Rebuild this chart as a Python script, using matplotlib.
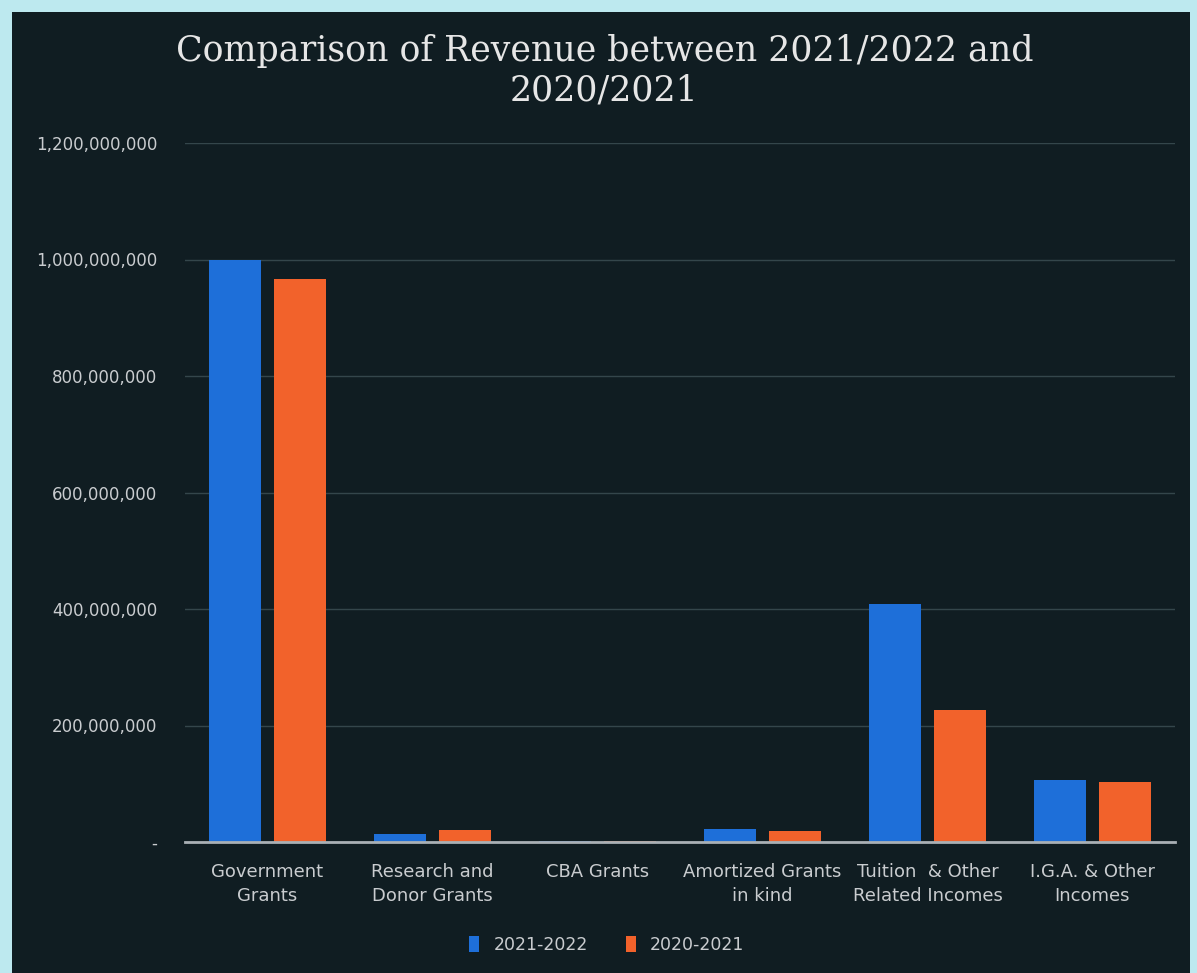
import matplotlib.pyplot as plt
import numpy as np
from matplotlib.patches import Rectangle
from matplotlib.ticker import FuncFormatter

categories = ["Government\nGrants", "Research and\nDonor Grants", "CBA Grants",
              "Amortized Grants\nin kind", "Tuition  & Other\nRelated Incomes",
              "I.G.A. & Other\nIncomes"]
rev_2122 = [999000000, 14000000, 1500000, 22000000, 409000000, 106000000]
rev_2021 = [966000000, 21000000, 1000000, 19000000, 227000000, 103000000]
series_names = ["2021-2022", "2020-2021"]
y_ticks = [0, 200000000, 400000000, 600000000, 800000000, 1000000000, 1200000000]

bg = "#101d22"
text_col = "#c9cccf"
blue = "#1e6fd9"
orange = "#f2622b"

fig = plt.figure(figsize=(11.97, 9.73), dpi=100)
fig.patch.set_facecolor("#bde9ef")
# dark panel of the photographed slide, kept behind the axes
fig.patches.append(Rectangle((12 / 1197, 0), 1178 / 1197, 961 / 973,
                             transform=fig.transFigure, facecolor=bg,
                             edgecolor="none", zorder=-5))

ax = fig.add_axes([185 / 1197, 131 / 973, 990 / 1197, 699 / 973])
ax.set_facecolor("none")

x = np.arange(len(categories))
w = 0.315
ax.bar(x - 0.195, rev_2122, w, color=blue, label=series_names[0], zorder=3)
ax.bar(x + 0.195, rev_2021, w, color=orange, label=series_names[1], zorder=3)

ax.set_xlim(-0.5, len(categories) - 0.5)
ax.set_ylim(0, 1200000000)
ax.set_yticks(y_ticks)
ax.yaxis.set_major_formatter(FuncFormatter(lambda v, p: "-" if v == 0 else f"{int(v):,}"))
ax.set_xticks(x)
ax.set_xticklabels(categories, fontsize=13, color=text_col, linespacing=1.45)
ax.tick_params(axis="y", labelsize=12, colors=text_col, length=0, pad=20)
ax.tick_params(axis="x", length=0, pad=15)
ax.grid(axis="y", color="#34464b", linewidth=1, zorder=0)

for s in ["top", "right", "left"]:
    ax.spines[s].set_visible(False)
ax.spines["bottom"].set_color("#a9b0b5")
ax.spines["bottom"].set_linewidth(2)
ax.spines["bottom"].set_zorder(4)

fig.text(0.505, 0.927, "Comparison of Revenue between 2021/2022 and\n2020/2021",
         ha="center", va="center", fontsize=25, family="DejaVu Serif",
         color="#e6e6e6", linespacing=1.2)

leg = ax.legend(loc="center", bbox_to_anchor=(0.426, -0.147), ncol=2, frameon=False,
                fontsize=12.5, handlelength=0.6, handleheight=1.0, columnspacing=2.2,
                handletextpad=0.8)
for t in leg.get_texts():
    t.set_color(text_col)

fig.savefig("out.png", dpi=100, facecolor=fig.get_facecolor())
